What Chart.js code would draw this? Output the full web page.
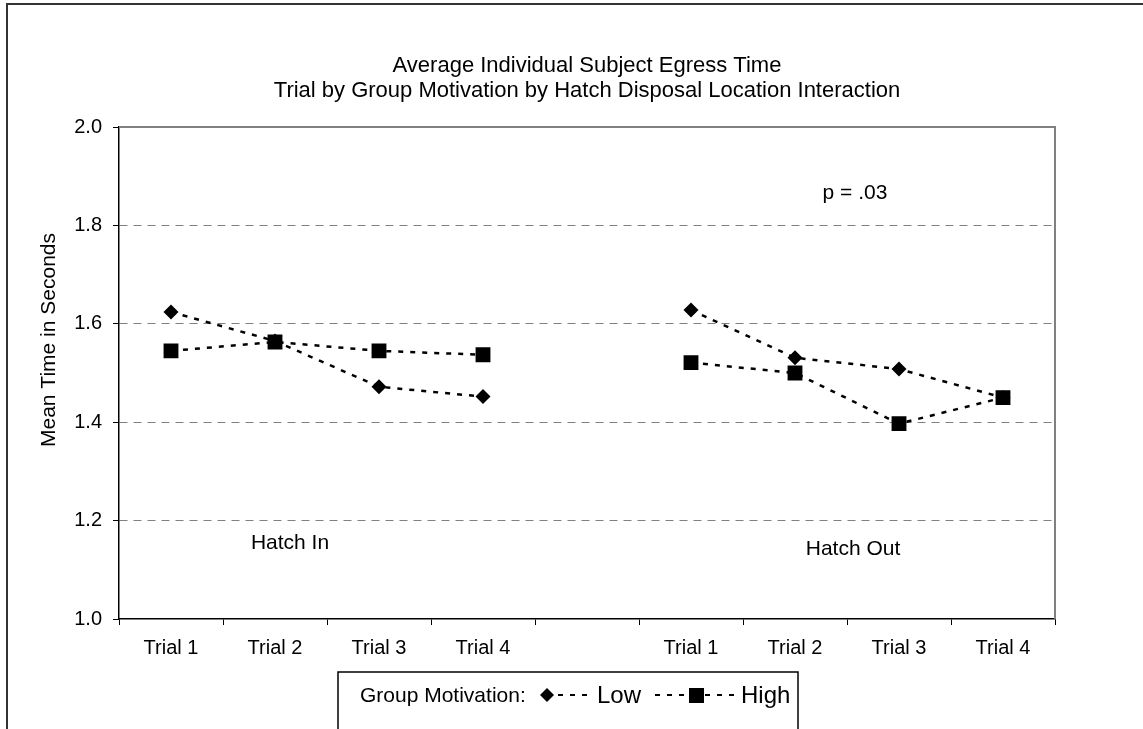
<!DOCTYPE html>
<html>
<head>
<meta charset="utf-8">
<script src="https://cdn.jsdelivr.net/npm/chart.js@4/dist/chart.umd.min.js"></script>
<style>
  html, body { margin: 0; padding: 0; background: #fff; }
  canvas { display: block; }
</style>
</head>
<body>
<canvas id="c" width="1143" height="729"></canvas>
<script>
const categories = ['Trial 1', 'Trial 2', 'Trial 3', 'Trial 4', '', 'Trial 1', 'Trial 2', 'Trial 3', 'Trial 4'];
const lowValues  = [1.624, 1.565, 1.472, 1.452, null, 1.628, 1.531, 1.508, 1.450];
const highValues = [1.545, 1.563, 1.545, 1.537, null, 1.521, 1.500, 1.397, 1.450];
const yTicks = [1.0, 1.2, 1.4, 1.6, 1.8, 2.0];
const titleLines = ['Average Individual Subject Egress Time', 'Trial by Group Motivation by Hatch Disposal Location Interaction'];
const yTitle = 'Mean Time in Seconds';
const seriesNames = ['Low', 'High'];
const legendTitle = 'Group Motivation:';

const FONT = '"Liberation Sans", Arial, sans-serif';

const decorPlugin = {
  id: 'decor',
  afterDraw(chart) {
    const ctx = chart.ctx;
    const a = chart.chartArea;
    ctx.save();
    // outer frame
    ctx.strokeStyle = '#333';
    ctx.lineWidth = 2;
    ctx.strokeRect(7, 4, 1300, 900);
    // plot frame top/right gray
    ctx.strokeStyle = '#808080';
    ctx.lineWidth = 2;
    ctx.beginPath();
    ctx.moveTo(a.left, a.top);
    ctx.lineTo(a.right, a.top);
    ctx.lineTo(a.right, a.bottom);
    ctx.stroke();
    // titles
    ctx.fillStyle = '#000';
    ctx.font = '22px ' + FONT;
    ctx.textAlign = 'center';
    ctx.textBaseline = 'middle';
    const cx = (a.left + a.right) / 2;
    ctx.fillText(titleLines[0], cx, 66);
    ctx.fillText(titleLines[1], cx, 91);
    // y title
    ctx.save();
    ctx.translate(49, 340);
    ctx.rotate(-Math.PI / 2);
    ctx.font = '21px ' + FONT;
    ctx.fillText(yTitle, 0, 0);
    ctx.restore();
    // annotations
    ctx.font = '21px ' + FONT;
    ctx.fillText('Hatch In', 290, 543);
    ctx.fillText('Hatch Out', 853, 549);
    ctx.fillText('p = .03', 855, 193);
    // legend box
    ctx.strokeStyle = '#000';
    ctx.lineWidth = 1.5;
    ctx.strokeRect(338, 672, 460, 80);
    ctx.fillStyle = '#000';
    ctx.textAlign = 'left';
    ctx.font = '21px ' + FONT;
    const ly = 695;
    ctx.fillText(legendTitle, 360, ly + 1, 168);
    // low marker
    ctx.beginPath();
    ctx.moveTo(547 - 7, ly);
    ctx.lineTo(547, ly - 7);
    ctx.lineTo(547 + 7, ly);
    ctx.lineTo(547, ly + 7);
    ctx.closePath();
    ctx.fill();
    ctx.setLineDash([5, 7]);
    ctx.lineWidth = 2;
    ctx.beginPath();
    ctx.moveTo(558, ly); ctx.lineTo(594, ly);
    ctx.moveTo(655, ly); ctx.lineTo(688, ly);
    ctx.moveTo(705, ly); ctx.lineTo(740, ly);
    ctx.stroke();
    ctx.setLineDash([]);
    ctx.fillRect(689, ly - 7, 15, 15);
    ctx.font = '24px ' + FONT;
    ctx.fillText(seriesNames[0], 597, ly + 1);
    ctx.fillText(seriesNames[1], 741, ly + 1);
    ctx.restore();
  }
};

const chart = new Chart(document.getElementById('c'), {
  type: 'line',
  data: {
    labels: categories,
    datasets: [
      {
        label: seriesNames[0],
        data: lowValues,
        borderColor: '#000',
        backgroundColor: '#000',
        borderWidth: 2.5,
        borderDash: [5, 7],
        pointStyle: 'rectRot',
        pointRadius: 7.5,
        pointBorderWidth: 0,
        pointBackgroundColor: '#000',
        spanGaps: false,
        tension: 0
      },
      {
        label: seriesNames[1],
        data: highValues,
        borderColor: '#000',
        backgroundColor: '#000',
        borderWidth: 2.5,
        borderDash: [5, 7],
        pointStyle: 'rect',
        pointRadius: 10.5,
        pointBorderWidth: 0,
        pointBackgroundColor: '#000',
        spanGaps: false,
        tension: 0
      }
    ]
  },
  options: {
    responsive: false,
    animation: false,
    devicePixelRatio: 1,
    layout: { padding: { top: 127, right: 88, left: 0, bottom: 0 } },
    plugins: {
      legend: { display: false },
      tooltip: { enabled: false },
      title: { display: false }
    },
    scales: {
      x: {
        type: 'category',
        offset: true,
        afterFit(scale) { scale.height = 110; },
        grid: {
          offset: true,
          drawOnChartArea: false,
          drawTicks: true,
          tickLength: 6,
          color: '#000',
          lineWidth: 1
        },
        border: { display: true, color: '#000', width: 1.5 },
        ticks: {
          color: '#000',
          font: { family: FONT, size: 20 },
          padding: 11,
          maxRotation: 0,
          autoSkip: false
        }
      },
      y: {
        min: yTicks[0],
        max: yTicks[yTicks.length - 1],
        afterFit(scale) { scale.width = 119; },
        afterBuildTicks(scale) { scale.ticks = yTicks.map(v => ({ value: v })); },
        grid: {
          drawTicks: true,
          tickLength: 6,
          color: (c) => (c.tick && (c.tick.value === 1 || c.tick.value === 2)) ? 'rgba(0,0,0,0)' : '#808080',
          tickColor: '#000',
          lineWidth: 1,
          tickBorderDash: []
        },
        border: { display: true, color: '#000', width: 1.5, dash: [8, 6] },
        ticks: {
          color: '#000',
          font: { family: FONT, size: 20 },
          padding: 11,
          callback: (v) => Number(v).toFixed(1)
        }
      }
    }
  },
  plugins: [decorPlugin]
});
</script>
</body>
</html>
